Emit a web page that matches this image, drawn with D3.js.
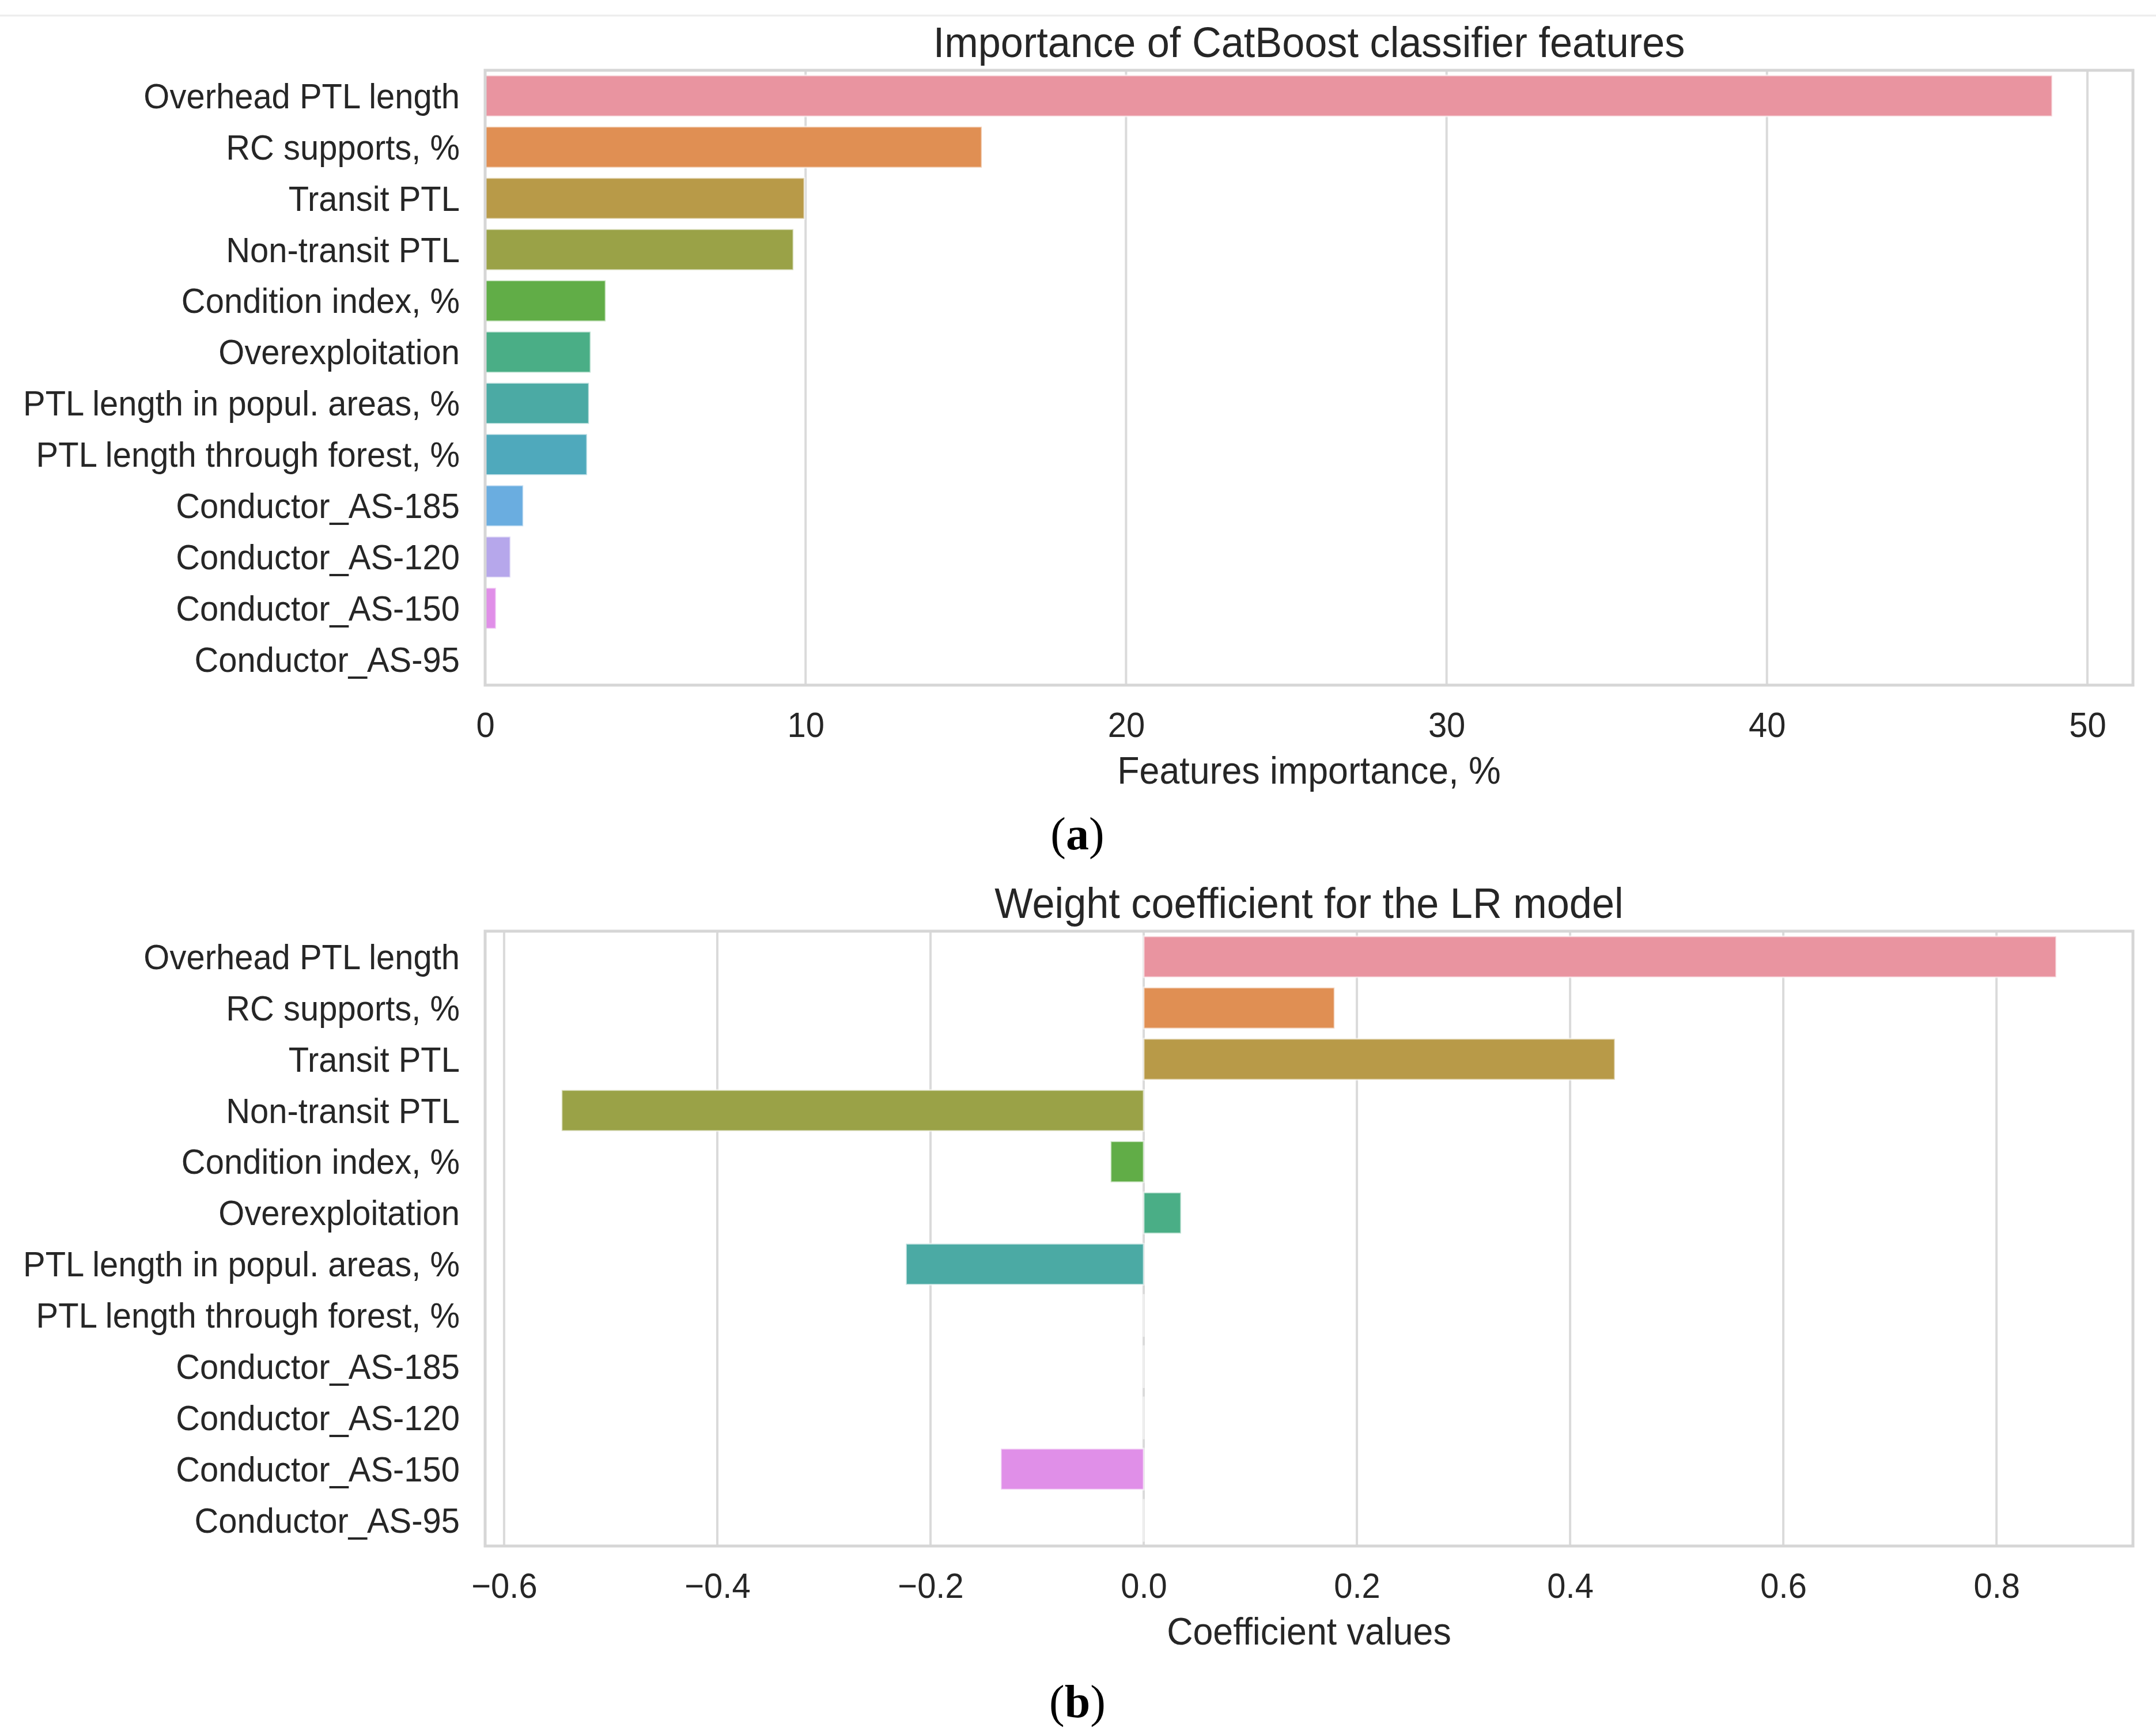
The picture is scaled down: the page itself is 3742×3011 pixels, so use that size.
<!DOCTYPE html>
<html><head><meta charset="utf-8">
<script src="https://cdn.jsdelivr.net/npm/d3@7"></script>
<style>body{margin:0;background:#fff;} svg{display:block;}</style>
</head><body>
<svg id="chart" width="3742" height="3011"></svg>
<script>
// ---- data ----
const features = [
  "Overhead PTL length", "RC supports, %", "Transit PTL", "Non-transit PTL",
  "Condition index, %", "Overexploitation", "PTL length in popul. areas, %",
  "PTL length through forest, %", "Conductor_AS-185", "Conductor_AS-120",
  "Conductor_AS-150", "Conductor_AS-95"
];
const importanceValues = [48.9, 15.5, 9.96, 9.62, 3.76, 3.29, 3.24, 3.18, 1.19, 0.79, 0.34, 0];
const coefficientValues = [0.856, 0.179, 0.442, -0.546, -0.031, 0.035, -0.223, 0, 0, 0, -0.134, 0];
const importanceTicks = [0, 10, 20, 30, 40, 50];
const coefficientTicks = [-0.6, -0.4, -0.2, 0, 0.2, 0.4, 0.6, 0.8];
const barColors = ["#e994a0", "#e08f53", "#b89a48", "#9aa247", "#61ad47", "#4aae86",
                   "#4baaa4", "#4fa9bc", "#6aade0", "#b6a7eb", "#e08fe8", "#e890c5"];
const panelTitles = ["Importance of CatBoost classifier features", "Weight coefficient for the LR model"];
const axisTitles = ["Features importance, %", "Coefficient values"];
const panelLetters = ["a", "b"];

// ---- layout ----
const W = 3742, H = 3011;
const left = 842, right = 3702;
const textColor = "#262626";
const gridColor = "#dadada";
const spineColor = "#d6d6d6";
const sx = 0.95;
const svg = d3.select("#chart");

svg.append("line").attr("x1", 0).attr("x2", W).attr("y1", 27).attr("y2", 27)
  .attr("stroke", "#ececec").attr("stroke-width", 3);

const panels = [
  {top: 122, bottom: 1189, values: importanceValues, ticks: importanceTicks,
   domain: [0, 51.42], fmt: d3.format("d"), letterY: 1474},
  {top: 1616, bottom: 2683, values: coefficientValues, ticks: coefficientTicks,
   domain: [-0.6178, 0.928], fmt: d3.format(".1f"), letterY: 2980}
];

panels.forEach((p, pi) => {
  const g = svg.append("g");
  const x = d3.scaleLinear().domain(p.domain).range([left, right]);
  const y = d3.scaleBand().domain(features).range([p.top, p.bottom])
    .paddingInner(0.2).paddingOuter(0.1);

  // grid
  g.append("g").selectAll("line").data(p.ticks).join("line")
    .attr("x1", d => x(d)).attr("x2", d => x(d))
    .attr("y1", p.top).attr("y2", p.bottom)
    .attr("stroke", gridColor).attr("stroke-width", 4);

  // bars
  g.append("g").selectAll("rect").data(p.values).join("rect")
    .attr("x", d => x(Math.min(0, d)))
    .attr("width", d => Math.max(0.01, Math.abs(x(d) - x(0))))
    .attr("y", (d, i) => y(features[i]))
    .attr("height", y.bandwidth())
    .attr("fill", (d, i) => barColors[i])
    .attr("stroke", "rgba(255,255,255,0.6)")
    .attr("stroke-width", 3);

  // spines
  g.append("rect").attr("x", left).attr("y", p.top)
    .attr("width", right - left).attr("height", p.bottom - p.top)
    .attr("fill", "none").attr("stroke", spineColor).attr("stroke-width", 5);

  // x axis
  const xa = g.append("g").attr("transform", `translate(0,${p.bottom})`)
    .call(d3.axisBottom(x).tickValues(p.ticks).tickFormat(p.fmt).tickSize(0));
  xa.select(".domain").remove();
  xa.selectAll("text")
    .attr("y", 90).attr("dy", null)
    .attr("transform", `scale(${sx},1)`)
    .attr("font-family", "Liberation Sans, Arial, sans-serif")
    .attr("font-size", 61).attr("fill", textColor);

  // y axis
  const ya = g.append("g").attr("transform", `translate(${left},0)`)
    .call(d3.axisLeft(y).tickSize(0));
  ya.select(".domain").remove();
  ya.selectAll("text")
    .attr("x", -44 / sx).attr("dy", "0.35em")
    .attr("transform", `scale(${sx},1)`)
    .attr("font-family", "Liberation Sans, Arial, sans-serif")
    .attr("font-size", 61).attr("fill", textColor);

  // title
  g.append("g").attr("transform", `translate(${(left + right) / 2},${p.top - 23})`)
    .append("text").attr("transform", `scale(${sx},1)`)
    .attr("text-anchor", "middle")
    .attr("font-family", "Liberation Sans, Arial, sans-serif")
    .attr("font-size", 74).attr("fill", textColor)
    .text(panelTitles[pi]);

  // x label
  g.append("g").attr("transform", `translate(${(left + right) / 2},${p.bottom + 171})`)
    .append("text").attr("transform", `scale(${sx},1)`)
    .attr("text-anchor", "middle")
    .attr("font-family", "Liberation Sans, Arial, sans-serif")
    .attr("font-size", 66).attr("fill", textColor)
    .text(axisTitles[pi]);

  // panel letter
  const lt = g.append("text").attr("x", 1870).attr("y", p.letterY)
    .attr("text-anchor", "middle")
    .attr("font-family", "Liberation Serif, Times New Roman, serif")
    .attr("font-size", 80).attr("fill", "#000");
  lt.append("tspan").text("(");
  lt.append("tspan").attr("font-weight", "bold").text(panelLetters[pi]);
  lt.append("tspan").text(")");
});
</script>
</body></html>
